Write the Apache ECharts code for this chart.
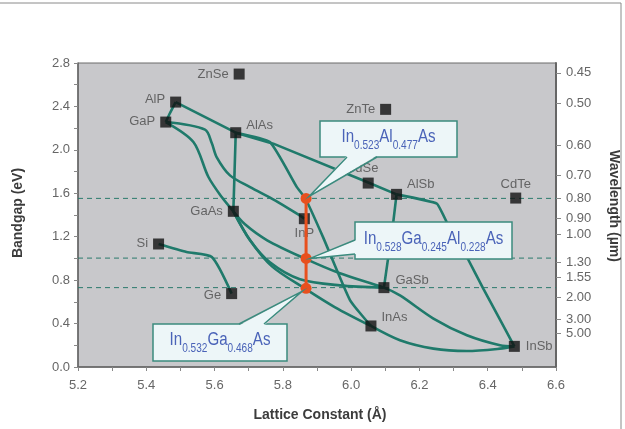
<!DOCTYPE html>
<html><head><meta charset="utf-8">
<script src="https://cdn.jsdelivr.net/npm/echarts@6/dist/echarts.min.js"></script>
<style>html,body{margin:0;padding:0;background:#fff}#c{width:625px;height:429px}</style>
</head><body><div id="c"></div>
<script>
// ---- data ----
const compounds   = ['ZnSe','AlP','GaP','AlAs','ZnTe','CdSe','AlSb','CdTe','GaAs','InP','Si','Ge','GaSb','InAs','InSb'];
const latticeConst = [5.672,5.486,5.457,5.662,6.101,6.050,6.133,6.482,5.655,5.863,5.436,5.650,6.096,6.058,6.478];
const bandgapEv    = [2.698,2.440,2.256,2.158,2.373,1.694,1.590,1.556,1.434,1.366,1.133,0.676,0.731,0.378,0.190];

const curveAlPGaP      = [[5.486,2.440],[5.468,2.330],[5.457,2.256]];
const curveAlPAlAsAlSb = [[5.486,2.440],[5.662,2.158],[5.772,2.057],[6.050,1.700],[6.133,1.590]];
const curveAlAsInAs    = [[5.662,2.158],[5.762,2.072],[5.841,1.657],[5.866,1.552],[5.918,1.194],[5.997,0.614],[6.058,0.378]];
const curveAlAsGaAs    = [[5.662,2.158],[5.655,1.434]];
const curveGaPGaAs     = [[5.457,2.256],[5.538,2.072],[5.582,1.750],[5.621,1.565],[5.655,1.434]];
const curveGaPInP      = [[5.457,2.256],[5.572,2.186],[5.592,2.060],[5.606,1.934],[5.645,1.765],[5.704,1.657],[5.777,1.535],[5.841,1.412],[5.863,1.366]];
const curveArcToInSb   = [[5.655,1.434],[5.689,1.314],[5.754,1.167],[5.865,0.998],[5.967,0.863],[6.096,0.731],[6.143,0.659],[6.241,0.446],[6.339,0.292],[6.436,0.200],[6.478,0.190]];
const curveGaAsGaSb    = [[5.655,1.434],[5.704,1.167],[5.762,0.964],[5.850,0.808],[5.967,0.752],[6.096,0.731]];
const curveGaAsInAs    = [[5.655,1.434],[5.704,1.167],[5.768,0.927],[5.865,0.722],[5.953,0.550],[6.058,0.378]];
const curveSiGe        = [[5.436,1.133],[5.518,1.059],[5.592,1.013],[5.650,0.676]];
const curveAlSbGaSb    = [[6.133,1.590],[6.124,1.351],[6.096,0.731]];
const curveAlSbInSb    = [[6.133,1.590],[6.251,1.505],[6.280,1.335],[6.339,1.013],[6.387,0.722],[6.478,0.190]];
const curveInAsInSb    = [[6.058,0.378],[6.143,0.246],[6.241,0.169],[6.339,0.147],[6.436,0.169],[6.478,0.190]];

const dashLevels = [1.553, 1.003, 0.731];
const matchedLattice = 5.868;
const matchedGaps = [1.553, 1.000, 0.725];

const wavelengthLabels = ['0.45','0.50','0.60','0.70','0.80','0.90','1.00','1.30','1.55','2.00','3.00','5.00'];
const wavelengthPosEv  = [2.710,2.430,2.040,1.765,1.556,1.372,1.222,0.967,0.823,0.645,0.439,0.307];

const xTicksMin = 5.2, xTicksMax = 6.6, xStep = 0.2;
const yTicksMin = 0, yTicksMax = 2.8, yStep = 0.4;

const callout1 = [['In',0],['0.523',1],['Al',0],['0.477',1],['As',0]];
const callout2 = [['In',0],['0.528',1],['Ga',0],['0.245',1],['Al',0],['0.228',1],['As',0]];
const callout3 = [['In',0],['0.532',1],['Ga',0],['0.468',1],['As',0]];

// ---- styles ----
const TEAL = '#1f7a6b', ORANGE = '#e8501e', BLUE = '#4a63b8';
const labelStyle = {
  ZnSe:['left',[0,0]], AlP:['left',[0,-3]], GaP:['left',[0,-1]], AlAs:['right',[0,-7]],
  ZnTe:['left',[0,0]], CdSe:['top',[-6,2]], AlSb:['right',[0,-10]], CdTe:['top',[0,3]],
  GaAs:['left',[0,0]], InP:['bottom',[0,-2]], Si:['left',[0,-1]], Ge:['left',[0,2]],
  GaSb:['right',[1,-7]], InAs:['right',[0,-9]], InSb:['right',[1,0]]
};
const curveSmooth = [
  [curveAlPGaP,0.3],[curveAlPAlAsAlSb,0],[curveAlAsInAs,0.15],[curveAlAsGaAs,0],
  [curveGaPGaAs,0.3],[curveGaPInP,0.3],[curveArcToInSb,0.3],[curveGaAsGaSb,0.3],
  [curveGaAsInAs,0.3],[curveSiGe,0.2],[curveAlSbGaSb,0.1],[curveAlSbInSb,0.1],[curveInAsInSb,0.3]
];

const series = [];
dashLevels.forEach(y => series.push({
  type:'line', data:[[xTicksMin,y],[xTicksMax,y]], showSymbol:false, silent:true, z:1,
  lineStyle:{color:'#2b7a6c', width:1, type:[5,4]}
}));
curveSmooth.forEach(([d,s]) => series.push({
  type:'line', data:d, showSymbol:false, smooth:s, silent:true, z:2,
  lineStyle:{color:TEAL, width:2.6}
}));
series.push({
  type:'scatter', symbol:'rect', symbolSize:11, z:5, silent:true,
  itemStyle:{color:'#111'},
  data: compounds.map((n,i) => ({
    name:n, value:[latticeConst[i], bandgapEv[i]],
    label:{show:true, position:labelStyle[n][0], offset:labelStyle[n][1], distance:5,
      formatter:n, color:'#4a4a4a', fontSize:13, fontFamily:'Liberation Sans, Arial, sans-serif'}
  }))
});
series.push({
  type:'line', data: matchedGaps.map(g => [matchedLattice, g]), symbol:'circle', symbolSize:11,
  showSymbol:true, silent:true, z:6,
  itemStyle:{color:ORANGE}, lineStyle:{color:ORANGE, width:3}
});

const axisLabelStyle = {color:'#666', fontSize:13, fontFamily:'Liberation Sans, Arial, sans-serif'};
const chart = echarts.init(document.getElementById('c'), null, {renderer:'canvas'});
chart.setOption({
  animation:false,
  grid:{left:78, right:69, top:63, bottom:62, show:true, backgroundColor:'#c8c8cb', borderColor:'#6a6a6a', borderWidth:1},
  xAxis:{type:'value', min:xTicksMin, max:xTicksMax, interval:xStep,
    axisLine:{show:true, onZero:false, lineStyle:{color:'#666', width:1.5}},
    axisTick:{show:true, length:4, lineStyle:{color:'#888'}},
    minorTick:{show:true, splitNumber:2, length:4, lineStyle:{color:'#888'}},
    axisLabel:Object.assign({margin:12, formatter:v=>v.toFixed(1)}, axisLabelStyle),
    splitLine:{show:false}},
  yAxis:[
    {type:'value', min:yTicksMin, max:yTicksMax, interval:yStep,
     axisLine:{show:true, lineStyle:{color:'#666', width:1.5}},
     axisTick:{show:true, length:4, lineStyle:{color:'#888'}},
     minorTick:{show:true, splitNumber:2, length:4, lineStyle:{color:'#888'}},
     axisLabel:Object.assign({margin:8, formatter:v=>v.toFixed(1)}, axisLabelStyle),
     splitLine:{show:false}},
    {type:'value', position:'right', min:yTicksMin, max:yTicksMax,
     axisLine:{show:true, lineStyle:{color:'#666', width:2}},
     axisTick:{show:true, length:5, customValues:wavelengthPosEv, lineStyle:{color:'#888'}},
     axisLabel:Object.assign({margin:10, customValues:wavelengthPosEv,
       formatter:v=>{const i=wavelengthPosEv.findIndex(p=>Math.abs(p-v)<1e-6); return i>=0?wavelengthLabels[i]:'';}}, axisLabelStyle),
     splitLine:{show:false}}
  ],
  series
});

// ---- annotations ----
const ctx = document.createElement('canvas').getContext('2d');
const BIG = 18, SUB = 12, SCALE = 0.84, FONT = 'Liberation Sans';
function richGroup(segs, cx, baseY) {
  let x = 0; const kids = [];
  segs.forEach(([t,sub]) => {
    const fs = sub ? SUB : BIG;
    ctx.font = fs + 'px "' + FONT + '"';
    const w = ctx.measureText(t).width;
    const by = sub ? 6.5 : 0;
    kids.push({type:'text', x:x, y:by - 0.35*fs, z:120, style:{text:t, fill:BLUE, fontSize:fs, fontFamily:FONT, align:'left', verticalAlign:'middle'}});
    x += w;
  });
  return {type:'group', x: cx - x*SCALE/2, y: baseY, scaleX: SCALE, children: kids};
}
function callout(box, b0, b1, apex, segs, baseOff) {
  const fill = '#edf6f8', stroke = '#3b8b7e';
  const inner = (p) => [p[0] + (p[2]||0), p[1] + (p[3]||0)];
  return [
    {type:'rect', shape:{x:box[0], y:box[1], width:box[2], height:box[3]}, style:{fill, stroke, lineWidth:1.5}, z:100},
    {type:'polygon', shape:{points:[inner(b0), inner(b1), apex]}, style:{fill, stroke:null}, z:101},
    {type:'polyline', shape:{points:[[b0[0],b0[1]], apex, [b1[0],b1[1]]]}, style:{stroke, lineWidth:1.5, fill:null}, z:102},
    richGroup(segs, box[0] + box[2]/2, box[1] + baseOff)
  ];
}
const op = matchedGaps.map(g => chart.convertToPixel({gridIndex:0}, [matchedLattice, g]));
const g = [];
g.push({type:'rect', shape:{x:-1, y:3, width:622, height:440}, style:{fill:null, stroke:'#8a8a8a', lineWidth:1}, z:90});
g.push(...callout([320,121,137,36], [347,157,0,-1.5], [377,157,0,-1.5], [op[0][0]+3, op[0][1]-2], callout1, 22));
g.push(...callout([355,222,157,37], [355,240,1.5,0], [355,254,1.5,0], [op[1][0]+4, op[1][1]], callout2, 23));
g.push(...callout([153,324,134,37], [239,324,0,1.5], [264,324,0,1.5], [op[2][0]-4, op[2][1]+3], callout3, 22.5));
const titleStyle = {fill:'#3c3c3c', fontSize:14, fontWeight:'bold', fontFamily:'Liberation Sans, Arial, sans-serif', align:'center', verticalAlign:'middle'};
g.push({type:'text', x:18, y:213, rotation:Math.PI/2, style:Object.assign({text:'Bandgap (eV)'}, titleStyle), z:95});
g.push({type:'text', x:614, y:206, rotation:-Math.PI/2, style:Object.assign({text:'Wavelength (µm)'}, titleStyle), z:95});
g.push({type:'text', x:320, y:415, style:Object.assign({text:'Lattice Constant (Å)'}, titleStyle), z:95});
chart.setOption({graphic:g});
</script></body></html>
